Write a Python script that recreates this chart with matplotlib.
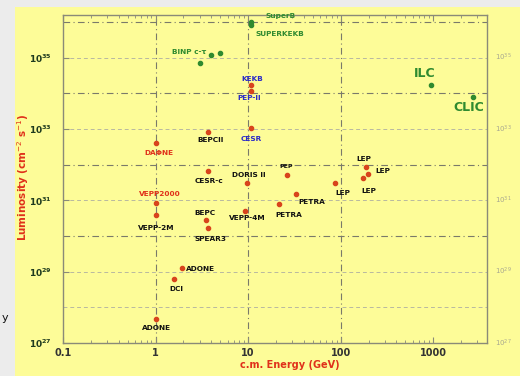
import matplotlib
matplotlib.use("Agg")
import matplotlib.pyplot as plt
from matplotlib.patches import Rectangle
from matplotlib.transforms import blended_transform_factory

# ----------------------------------------------------
# data: existing colliders (red points)
# ----------------------------------------------------
old_names = ["KEKB", "PEP-II", "CESR", "BEPCII", "DAΦNE", "CESR-c", "DORIS II",
             "VEPP2000", "VEPP-2M", "BEPC", "SPEAR3", "VEPP-4M", "PETRA", "PETRA",
             "PEP", "LEP", "LEP", "LEP", "LEP", "ADONE", "DCI", "ADONE"]
old_energy = [10.6, 10.6, 10.6, 3.7, 1.02, 3.7, 9.8,
              1.02, 1.02, 3.5, 3.7, 9.3, 33, 21.5,
              26, 86, 186, 195, 172, 1.95, 1.6, 1.02]
old_lumi = [1.7e34, 1.2e34, 1.1e33, 8.3e32, 4e32, 6.6e31, 3e31,
            8.3e30, 3.8e30, 2.75e30, 1.7e30, 5.2e30, 1.5e31, 7.8e30,
            5e31, 3e31, 8.5e31, 5.4e31, 4.2e31, 1.3e29, 6.3e28, 4.8e27]
old_label_kind = ["blue", "blue", "blue", "black", "red", "black", "black",
                  "red", "black", "black", "black", "black", "black", "black",
                  "black", "black", "black", "black", "black", "black", "black", "black"]

# future colliders (green points)
new_names = ["SuperB", "SUPERKEKB", "BINP c-τ", "", "", "ILC", "CLIC"]
new_energy = [10.6, 10.6, 3.0, 4.0, 5.0, 950, 2700]
new_lumi = [1e36, 8.5e35, 7e34, 1.2e35, 1.4e35, 1.7e34, 8e33]

# label offsets (pixels) - layout only
old_offsets = [(2, 6), (-1, -7), (1, -11), (2, -8), (3, -10), (1, -10), (1, 8),
               (3, 9), (0, -13), (-1, 7), (2, -11), (2, -7), (16, -8), (10, -11),
               (0, 9), (8, -10), (-2, 8), (15, 3), (6, -13), (18, -1), (2, -10), (0, -9)]
new_offsets = [(30, 6), (29, -9), (-11, 11), (0, 0), (0, 0), (-7, 12), (-5, -11)]

y_tick_exp = [27, 29, 31, 33, 35]

# ----------------------------------------------------
# figure
# ----------------------------------------------------
W, H = 520, 376
fig = plt.figure(figsize=(W / 100, H / 100), dpi=100, facecolor="#ececec")
yellow = "#fdfc98"
fig.patches.append(Rectangle((15 / W, 0), 1 - 15 / W, 1 - 7 / H, transform=fig.transFigure,
                             facecolor=yellow, edgecolor="none", zorder=-5))

ax = fig.add_axes([63 / W, 1 - 343 / H, (487 - 63) / W, (343 - 15) / H])
ax.set_zorder(2)
ax.set_facecolor("none")
ax.set_xscale("log")
ax.set_yscale("log")
ax.set_xlim(0.1, 3800)
ax.set_ylim(1e27, 10 ** 36.2)

# grid
for e in [30, 32, 34, 36]:
    ax.axhline(10.0 ** e, color="#7a7a6a", lw=0.8, ls=(0, (6, 3, 1, 3)), zorder=1)
for e in [28, 29, 31, 33, 35]:
    ax.axhline(10.0 ** e, color="#b8b8a0", lw=0.7, ls=(0, (4, 3)), zorder=1)
for xv in [1, 10, 100]:
    ax.axvline(xv, color="#7a7a6a", lw=0.8, ls=(0, (6, 3, 1, 3)), zorder=1)

for s in ax.spines.values():
    s.set_color("#8a8a78")
    s.set_linewidth(1.0)

ax.tick_params(which="both", direction="in", top=True, right=False, colors="#8a8a78",
               labelcolor="#333333", labelsize=7)
ax.tick_params(which="major", length=4)
ax.tick_params(which="minor", length=2)
ax.set_xticks([0.1, 1, 10, 100, 1000])
ax.set_xticklabels(["0.1", "1", "10", "100", "1000"], fontweight="bold")
ax.set_yticks([10.0 ** e for e in y_tick_exp])
ax.set_yticklabels([f"$\\mathbf{{10^{{{e}}}}}$" for e in y_tick_exp], color="#1e3a1e", fontsize=6.5)
ax.tick_params(axis="y", which="major", pad=8)
ax.tick_params(axis="y", which="minor", left=False)

# right side faint labels
tr = blended_transform_factory(ax.transAxes, ax.transData)
for e in y_tick_exp:
    ax.text(1.02, 10.0 ** e, f"$10^{{{e}}}$", transform=tr, fontsize=5, color="#a8a890",
            ha="left", va="center")

label_colors = {"blue": "#2a2ac8", "black": "#111111", "red": "#e0301a"}
red_pt = "#d8441c"
green = "#2f8a2f"

ax.plot(old_energy, old_lumi, ls="none", marker="o", ms=3, color=red_pt, zorder=3)
ax.plot(new_energy, new_lumi, ls="none", marker="o", ms=3, color=green, zorder=3)

for n, x, y, k, off in zip(old_names, old_energy, old_lumi, old_label_kind, old_offsets):
    fs = 4.5 if n == "PEP" else 5.3
    ax.annotate(n, (x, y), xytext=off, textcoords="offset pixels", ha="center", va="center",
                fontsize=fs, fontweight="bold", color=label_colors[k], zorder=4)

for n, x, y, off in zip(new_names, new_energy, new_lumi, new_offsets):
    if not n:
        continue
    big = n in ("ILC", "CLIC")
    ax.annotate(n, (x, y), xytext=off, textcoords="offset pixels", ha="center", va="center",
                fontsize=9 if big else 5.3, fontweight="bold", color=green, zorder=4)

fig.text(23 / W, 1 - 177 / H, "Luminosity (cm$^{-2}$ s$^{-1}$)", rotation=90, ha="center",
         va="center", color="#e0301a", fontsize=7.5, fontweight="bold")
fig.text(290 / W, 1 - 365 / H, "c.m. Energy (GeV)", ha="center", va="center",
         color="#e0301a", fontsize=7, fontweight="bold")
fig.text(5 / W, 1 - 318 / H, "y", ha="center", va="center", color="#111111", fontsize=8)

fig.savefig("out.png", dpi=100, facecolor=fig.get_facecolor())
